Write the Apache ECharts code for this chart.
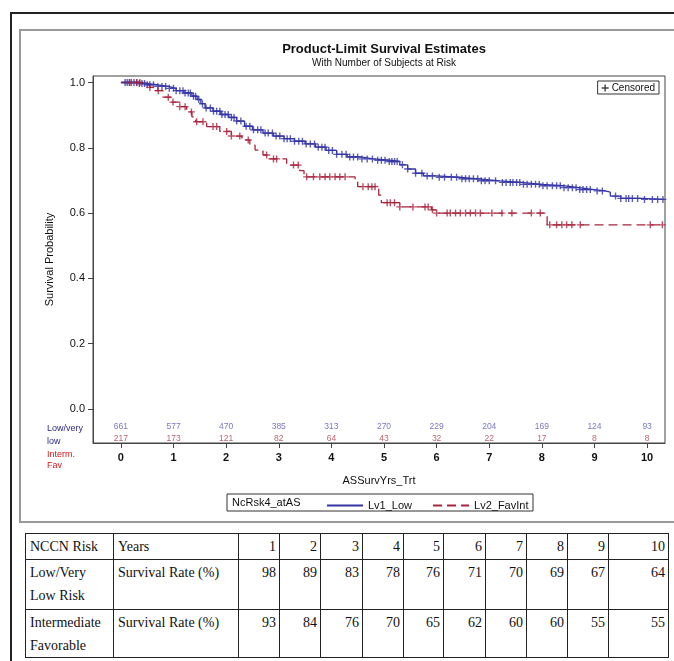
<!DOCTYPE html>
<html>
<head>
<meta charset="utf-8">
<script src="https://cdn.jsdelivr.net/npm/echarts@6/dist/echarts.min.js"></script>
<style>
  body { margin: 0; width: 674px; height: 661px; position: relative; overflow: hidden; background: #fff; }
  #outer { position: absolute; left: 10px; top: 12px; width: 700px; height: 700px; border-left: 2px solid #222; border-top: 2px solid #222; }
  #inner { position: absolute; left: 19px; top: 29px; width: 700px; height: 490px; border-left: 2px solid #999; border-top: 2px solid #999; border-bottom: 2px solid #999; }
  #chart { position: absolute; left: 0; top: 0; width: 674px; height: 528px; }
  #rates { position: absolute; left: 25px; top: 533px; border-collapse: collapse; font-family: "Liberation Serif", serif; font-size: 14px; color: #111; }
  #rates td { border: 1px solid #222; vertical-align: top; padding: 1px 3px 0 4px; line-height: 23px; }
  #rates td.num { text-align: right; }
</style>
</head>
<body>
<div id="outer"></div>
<div id="inner"></div>
<div id="chart"></div>
<table id="rates"></table>
<script>
// KM step points (time in years, survival)
const lowTimes = [0, 0.35, 0.5, 0.7, 0.9, 1.05, 1.2, 1.35, 1.45, 1.52, 1.6, 1.75, 1.9, 2.05, 2.2, 2.35, 2.5, 2.7, 2.9, 3.1, 3.3, 3.5, 3.7, 3.9, 4.1, 4.3, 4.55, 4.8, 5.1, 5.3, 5.45, 5.6, 5.75, 6.0, 6.4, 6.8, 7.2, 7.6, 8.0, 8.4, 8.7, 9.0, 9.2, 9.3, 9.5, 9.9, 10.32];
const lowSurv = [1.0, 0.997, 0.993, 0.988, 0.982, 0.975, 0.968, 0.958, 0.948, 0.935, 0.922, 0.912, 0.902, 0.893, 0.882, 0.866, 0.855, 0.845, 0.836, 0.828, 0.82, 0.812, 0.802, 0.792, 0.78, 0.772, 0.766, 0.762, 0.758, 0.748, 0.735, 0.722, 0.714, 0.71, 0.705, 0.699, 0.694, 0.688, 0.684, 0.678, 0.672, 0.668, 0.664, 0.652, 0.645, 0.642, 0.642];
const favTimes = [0, 0.4, 0.55, 0.65, 0.8, 0.95, 1.12, 1.25, 1.35, 1.42, 1.63, 1.88, 2.1, 2.3, 2.45, 2.55, 2.7, 2.8, 3.15, 3.4, 3.48, 4.45, 4.5, 4.9, 4.95, 5.3, 5.9, 6.0, 8.1, 10.32];
const favSurv = [1.0, 0.993, 0.985, 0.975, 0.955, 0.94, 0.926, 0.91, 0.895, 0.88, 0.865, 0.85, 0.836, 0.824, 0.808, 0.793, 0.778, 0.766, 0.747, 0.73, 0.711, 0.695, 0.681, 0.655, 0.632, 0.619, 0.61, 0.6, 0.564, 0.564];

// censoring times
const lowCensor = [0.08, 0.12, 0.16, 0.2, 0.25, 0.3, 0.35, 0.4, 0.45, 0.5, 0.55, 0.62, 0.7, 0.78, 0.85, 0.92, 1.0, 1.05, 1.12, 1.18, 1.22, 1.28, 1.32, 1.38, 1.42, 1.48, 1.55, 1.62, 1.7, 1.76, 1.82, 1.88, 1.92, 1.98, 2.04, 2.1, 2.15, 2.2, 2.28, 2.38, 2.45, 2.52, 2.6, 2.66, 2.74, 2.8, 2.88, 2.95, 3.02, 3.1, 3.16, 3.22, 3.3, 3.38, 3.45, 3.52, 3.6, 3.68, 3.75, 3.82, 3.88, 3.95, 4.02, 4.1, 4.2, 4.28, 4.35, 4.42, 4.5, 4.58, 4.68, 4.78, 4.88, 4.95, 5.02, 5.1, 5.15, 5.2, 5.25, 5.35, 5.45, 5.6, 5.72, 5.82, 5.92, 6.05, 6.15, 6.28, 6.38, 6.48, 6.55, 6.62, 6.7, 6.78, 6.85, 6.92, 7.0, 7.12, 7.25, 7.32, 7.4, 7.45, 7.52, 7.58, 7.65, 7.72, 7.8, 7.88, 7.95, 8.02, 8.1, 8.2, 8.28, 8.35, 8.42, 8.5, 8.58, 8.65, 8.72, 8.78, 8.85, 8.92, 9.05, 9.15, 9.4, 9.5, 9.6, 9.65, 9.72, 9.82, 9.95, 10.1, 10.2, 10.3];
const favCensor = [0.17, 0.3, 0.36, 0.55, 0.71, 0.9, 0.99, 1.12, 1.22, 1.34, 1.44, 1.56, 1.75, 1.82, 2.01, 2.1, 2.26, 2.42, 2.77, 2.9, 2.96, 3.28, 3.37, 3.53, 3.66, 3.78, 3.88, 3.97, 4.07, 4.16, 4.26, 4.6, 4.7, 4.77, 4.83, 5.06, 5.12, 5.2, 5.3, 5.55, 5.78, 5.84, 5.92, 6.0, 6.2, 6.26, 6.36, 6.45, 6.55, 6.64, 6.74, 6.83, 7.05, 7.24, 7.43, 7.8, 7.97, 8.15, 8.28, 8.38, 8.47, 8.57, 8.73, 10.06, 10.29];

// number at risk
const riskYears = [0, 1, 2, 3, 4, 5, 6, 7, 8, 9, 10];
const riskLow = [661, 577, 470, 385, 313, 270, 229, 204, 169, 124, 93];
const riskFav = [217, 173, 121, 82, 64, 43, 32, 22, 17, 8, 8];

// summary table
const tableYears = [1, 2, 3, 4, 5, 6, 7, 8, 9, 10];
const rateLow = [98, 89, 83, 78, 76, 71, 70, 69, 67, 64];
const rateFav = [93, 84, 76, 70, 65, 62, 60, 60, 55, 55];

const blue = '#3434a6';
const red = '#a8233d';
const plusIcon = 'path://M4,0h2v4h4v2h-4v4h-2v-4h-4v-2h4z';
const font = '"Liberation Sans", Arial, sans-serif';

function survAt(times, surv, t) {
  let s = surv[0];
  for (let i = 0; i < times.length; i++) {
    if (times[i] <= t) s = surv[i];
  }
  return s;
}

const chart = echarts.init(document.getElementById('chart'));

chart.setOption({
  animation: false,
  title: {
    text: 'Product-Limit Survival Estimates',
    subtext: 'With Number of Subjects at Risk',
    left: 379, top: 38, textAlign: 'center', itemGap: 2,
    textStyle: { fontFamily: font, fontSize: 13, fontWeight: 'bold', color: '#111' },
    subtextStyle: { fontFamily: font, fontSize: 10, color: '#111' }
  },
  grid: { left: 93, top: 76, width: 572, height: 367, show: true, borderColor: '#444', borderWidth: 1 },
  xAxis: {
    type: 'value', min: -0.53, max: 10.34,
    name: 'ASSurvYrs_Trt', nameLocation: 'middle', nameGap: 32,
    nameTextStyle: { fontFamily: font, fontSize: 11, color: '#111' },
    axisLine: { onZero: false, lineStyle: { color: '#444' } },
    axisTick: { length: 5, customValues: riskYears, lineStyle: { color: '#444' } },
    axisLabel: { customValues: riskYears, margin: 9, fontFamily: font, fontSize: 11, fontWeight: 'bold', color: '#111' },
    splitLine: { show: false }
  },
  yAxis: {
    type: 'value', min: -0.1041, max: 1.0199,
    name: 'Survival Probability', nameLocation: 'middle', nameGap: 38, nameRotate: 90,
    nameTextStyle: { fontFamily: font, fontSize: 11, color: '#111' },
    axisLine: { onZero: false, lineStyle: { color: '#444' } },
    axisTick: { length: 5, customValues: [0, 0.2, 0.4, 0.6, 0.8, 1.0], lineStyle: { color: '#444' } },
    axisLabel: { customValues: [0, 0.2, 0.4, 0.6, 0.8, 1.0], margin: 8, fontFamily: font, fontSize: 11, color: '#111',
      formatter: v => v.toFixed(1) },
    splitLine: { show: false }
  },
  legend: [
    {
      data: [{ name: 'Censored', icon: plusIcon, itemStyle: { color: '#111' } }],
      right: 15, top: 81, padding: [2, 4, 1, 4], itemGap: 4,
      itemWidth: 7, itemHeight: 7, borderColor: '#333', borderWidth: 1,
      textStyle: { fontFamily: font, fontSize: 10, color: '#111', padding: [0, 0, 0, -2] }
    },
    {
      data: ['Lv1_Low', 'Lv2_FavInt'],
      left: 321, top: 495, itemWidth: 36, itemHeight: 10, itemGap: 20,
      itemStyle: { opacity: 0 },
      textStyle: { fontFamily: font, fontSize: 11, color: '#111' }
    }
  ],
  graphic: [
    { type: 'rect', shape: { x: 227, y: 494, width: 306, height: 17 }, style: { fill: 'none', stroke: '#333', lineWidth: 1 } },
    { type: 'text', x: 232, y: 497, style: { text: 'NcRsk4_atAS', font: '11px ' + font, fill: '#111' } },
    { type: 'text', x: 47, y: 424, style: { text: 'Low/very', font: '9px ' + font, fill: '#2a2a8c' } },
    { type: 'text', x: 47, y: 437, style: { text: 'low', font: '9px ' + font, fill: '#2a2a8c' } },
    { type: 'text', x: 47, y: 450, style: { text: 'Interm.', font: '9px ' + font, fill: '#d01c1c' } },
    { type: 'text', x: 47, y: 461, style: { text: 'Fav', font: '9px ' + font, fill: '#d01c1c' } }
  ],
  series: [
    {
      name: 'Lv1_Low', type: 'line', step: 'end', symbol: 'none',
      lineStyle: { color: blue, width: 1.3 }, itemStyle: { color: blue },
      data: lowTimes.map((t, i) => [t, lowSurv[i]])
    },
    {
      name: 'Lv2_FavInt', type: 'line', step: 'end', symbol: 'none',
      lineStyle: { color: red, width: 1.3, type: [9, 5] }, itemStyle: { color: red },
      data: favTimes.map((t, i) => [t, favSurv[i]])
    },
    {
      name: 'Censored', type: 'scatter', symbol: plusIcon, symbolSize: 7,
      itemStyle: { color: blue }, z: 3,
      data: lowCensor.map(t => [t, survAt(lowTimes, lowSurv, t)])
    },
    {
      name: 'Censored', type: 'scatter', symbol: plusIcon, symbolSize: 7,
      itemStyle: { color: red }, z: 4,
      data: favCensor.map(t => [t, survAt(favTimes, favSurv, t)])
    },
    {
      type: 'scatter', symbolSize: 0, silent: true,
      label: { show: true, position: 'inside', formatter: p => p.value[2], fontFamily: font, fontSize: 8.5, color: '#5656b2' },
      data: riskYears.map((y, i) => [y, -0.055, riskLow[i]])
    },
    {
      type: 'scatter', symbolSize: 0, silent: true,
      label: { show: true, position: 'inside', formatter: p => p.value[2], fontFamily: font, fontSize: 8.5, color: '#a63c4c' },
      data: riskYears.map((y, i) => [y, -0.092, riskFav[i]])
    }
  ]
});

// table under the plot
const colWidths = [88, 125, 41, 41, 42, 41, 40, 42, 41, 41, 41, 60];
const rowHeights = [26, 50, 47];
const rows = [
  ['NCCN Risk', 'Years'].concat(tableYears),
  ['Low/Very<br>Low Risk', 'Survival Rate (%)'].concat(rateLow),
  ['Intermediate<br>Favorable', 'Survival Rate (%)'].concat(rateFav)
];
const tbl = document.getElementById('rates');
rows.forEach((r, ri) => {
  const tr = document.createElement('tr');
  tr.style.height = rowHeights[ri] + 'px';
  r.forEach((c, ci) => {
    const td = document.createElement('td');
    td.innerHTML = c;
    td.style.width = (colWidths[ci] - 8) + 'px';
    if (ci > 1) td.className = 'num';
    tr.appendChild(td);
  });
  tbl.appendChild(tr);
});
</script>
</body>
</html>
